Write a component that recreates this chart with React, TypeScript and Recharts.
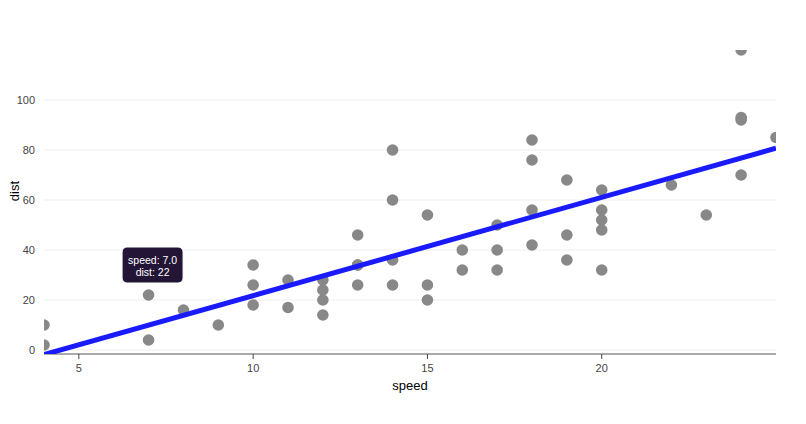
import React from 'react';
import { ComposedChart, Scatter, XAxis, YAxis, CartesianGrid, Label } from 'recharts';

const speed = [4, 4, 7, 7, 8, 9, 10, 10, 10, 11, 11, 12, 12, 12, 12, 13, 13, 13, 13, 14, 14, 14, 14, 15, 15, 15, 16, 16, 17, 17, 17, 18, 18, 18, 18, 19, 19, 19, 20, 20, 20, 20, 20, 22, 23, 24, 24, 24, 24, 25];
const dist = [2, 10, 4, 22, 16, 10, 18, 26, 34, 17, 28, 14, 20, 24, 28, 26, 34, 34, 46, 26, 36, 60, 80, 20, 26, 54, 32, 40, 32, 40, 50, 42, 56, 76, 84, 36, 46, 68, 32, 48, 52, 56, 64, 66, 54, 70, 92, 93, 120, 85];
const xTicks = [5, 10, 15, 20];
const yTicks = [0, 20, 40, 60, 80, 100];
const yDomain: [number, number] = [-1.6, 120];
const hoverPoint = { speed: 7, dist: 22 };

const points = speed.map((s, i) => ({ speed: s, dist: dist[i] }));

const n = speed.length;
const mx = speed.reduce((a, b) => a + b, 0) / n;
const my = dist.reduce((a, b) => a + b, 0) / n;
let sxy = 0;
let sxx = 0;
for (let i = 0; i < n; i++) {
  sxy += (speed[i] - mx) * (dist[i] - my);
  sxx += (speed[i] - mx) * (speed[i] - mx);
}
const slope = sxy / sxx;
const intercept = my - slope * mx;
const fitX = [Math.min(...speed), Math.max(...speed)];
const fitData = fitX.map((x) => ({ speed: x, dist: intercept + slope * x }));

const FONT = 'Arial, "Liberation Sans", sans-serif';
const tickStyle = { fontSize: 11, fill: '#444444', fontFamily: FONT };

const Dot = (props: any) => {
  const { cx, cy } = props;
  return <circle cx={cx} cy={cy} r={5.8} fill="#888888" />;
};

const TooltipShape = (props: any) => {
  const { cx, cy, payload } = props;
  const w = 61;
  const h = 36;
  const x = cx - w / 2 + 4;
  const y = cy - 48;
  return (
    <g>
      <rect x={x} y={y} width={w} height={h} rx={5} ry={5} fill="#231535" stroke="#ffffff" strokeWidth={1} />
      <text x={x + w / 2} y={y + 16.5} textAnchor="middle" fill="#ffffff" fontSize={10.5} fontFamily={FONT}>
        {`speed: ${payload.speed.toFixed(1)}`}
      </text>
      <text x={x + w / 2} y={y + 28.5} textAnchor="middle" fill="#ffffff" fontSize={10.5} fontFamily={FONT}>
        {`dist: ${payload.dist}`}
      </text>
    </g>
  );
};

const YTitle = () => {
  return (
    <text x={19} y={191} transform="rotate(-90 19 191)" textAnchor="middle" fontSize={13} fill="#000" fontFamily={FONT}>
      dist
    </text>
  );
};

const gridGen = (p: any) => {
  const top = p?.offset?.top ?? 50;
  const h = p?.offset?.height ?? 304;
  return yTicks.map((t) => top + (h * (yDomain[1] - t)) / (yDomain[1] - yDomain[0]));
};

export default function App() {
  return (
    <div style={{ position: 'absolute', left: 0, top: 0, width: 806, height: 424, background: '#fff' }}>
      <ComposedChart width={806} height={424} margin={{ top: 50, right: 30, left: 0, bottom: 0 }}>
        <CartesianGrid
          horizontal={true}
          vertical={false}
          stroke="#eeeeee"
          strokeWidth={1}
          horizontalCoordinatesGenerator={gridGen}
        />
        <XAxis
          type="number"
          dataKey="speed"
          domain={[4, 25]}
          ticks={xTicks}
          allowDataOverflow
          height={70}
          stroke="#aaaaaa"
          strokeWidth={2}
          tickSize={5}
          tickMargin={5}
          tick={tickStyle}
          tickLine={{ stroke: '#444', strokeWidth: 1 }}
        >
          <Label value="speed" position="insideTop" offset={27} style={{ fontSize: 13, fill: '#000', fontFamily: FONT }} />
        </XAxis>
        <YAxis
          type="number"
          dataKey="dist"
          domain={yDomain}
          ticks={yTicks}
          allowDataOverflow
          width={44}
          axisLine={false}
          tickLine={false}
          tickSize={0}
          tickMargin={9}
          tick={tickStyle}
          label={<YTitle />}
        />
        <Scatter data={points} fill="#888888" shape={<Dot />} isAnimationActive={false} />
        <Scatter
          data={fitData}
          line={{ stroke: '#1a1aff', strokeWidth: 5 }}
          shape={() => null}
          isAnimationActive={false}
        />
        <Scatter data={[hoverPoint]} shape={<TooltipShape />} isAnimationActive={false} />
      </ComposedChart>
    </div>
  );
}
